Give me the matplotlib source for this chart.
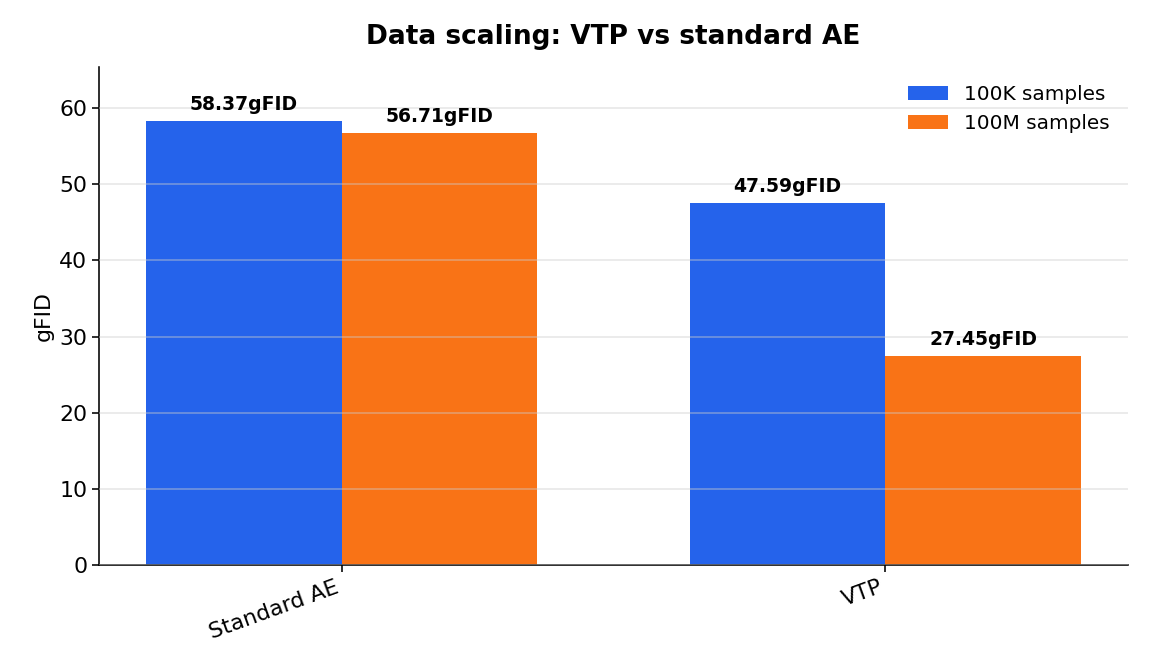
import matplotlib
matplotlib.use("Agg")
import matplotlib.pyplot as plt
import numpy as np

models = ["Standard AE", "VTP"]
series_names = ["100K samples", "100M samples"]
gfid_100k = [58.37, 47.59]
gfid_100m = [56.71, 27.45]
colors = ["#2563EB", "#F97316"]

x = np.arange(len(models))
width = 0.36

fig, ax = plt.subplots(figsize=(11.52, 6.72), dpi=100)

for i, (vals, name) in enumerate(zip([gfid_100k, gfid_100m], series_names)):
    offset = (i - 0.5) * width
    bars = ax.bar(x + offset, vals, width, label=name, color=colors[i])
    for b, v in zip(bars, vals):
        ax.annotate(f"{v:.2f}gFID", (b.get_x() + b.get_width() / 2, v),
                    xytext=(0, 5), textcoords="offset points",
                    ha="center", va="bottom", fontsize=13.5, fontweight="bold")

ax.set_ylim(0, max(gfid_100k + gfid_100m) * 1.12)
ax.set_xticks(x)
ax.set_xticklabels(models, rotation=20, ha="right", fontsize=15.8)
ax.tick_params(axis="y", labelsize=15.8)
ax.tick_params(length=5, width=1.15)
ax.set_ylabel("gFID", fontsize=15.8)
ax.set_title("Data scaling: VTP vs standard AE", fontsize=19, fontweight="bold", pad=17)
ax.grid(axis="y", color="#cccccc", alpha=0.4, linewidth=1.4)
ax.set_axisbelow(False)
ax.spines["top"].set_visible(False)
ax.spines["right"].set_visible(False)
ax.spines["left"].set_linewidth(1.15)
ax.spines["bottom"].set_linewidth(1.15)
ax.legend(frameon=False, fontsize=14.4, loc="upper right")

fig.subplots_adjust(left=0.086, right=0.979, top=0.9, bottom=0.159)
fig.savefig("out.png", dpi=100)
